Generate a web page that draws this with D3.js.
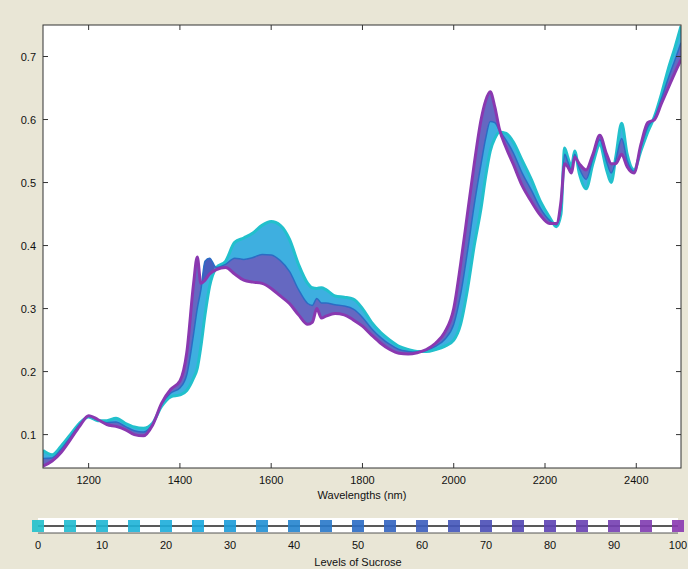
<!DOCTYPE html>
<html>
<head>
<meta charset="utf-8">
<script src="https://cdn.jsdelivr.net/npm/d3@7"></script>
<style>
  body { margin: 0; background: #e9e6d6; }
  text { font-family: "Liberation Sans", Arial, sans-serif; fill: #111; }
</style>
</head>
<body>
<svg id="chart" width="688" height="569"></svg>
<script>
// Wavelength grid (nm) shared by all spectra
const wavelengths = [1100,1120,1140,1160,1180,1200,1220,1240,1260,1280,1300,1320,1340,1360,1380,1400,1415,1430,1438,1446,1455,1465,1480,1500,1520,1540,1560,1580,1600,1620,1640,1660,1680,1690,1700,1710,1720,1740,1760,1780,1800,1820,1840,1860,1880,1900,1920,1940,1960,1980,2000,2015,2030,2045,2060,2070,2080,2090,2100,2115,2130,2150,2170,2190,2210,2225,2235,2243,2250,2258,2265,2275,2290,2305,2320,2335,2345,2355,2368,2380,2395,2410,2425,2440,2455,2470,2485,2498];

// Absorbance at 0% sucrose (cyan edge of the band)
const absLow = [0.075,0.068,0.082,0.100,0.118,0.128,0.122,0.122,0.126,0.118,0.112,0.110,0.118,0.145,0.160,0.163,0.170,0.190,0.205,0.240,0.290,0.335,0.365,0.375,0.405,0.412,0.420,0.432,0.438,0.432,0.410,0.370,0.340,0.333,0.332,0.333,0.330,0.320,0.318,0.315,0.300,0.278,0.262,0.250,0.240,0.235,0.232,0.232,0.235,0.240,0.250,0.275,0.330,0.400,0.460,0.510,0.550,0.570,0.580,0.578,0.565,0.535,0.505,0.470,0.445,0.430,0.450,0.555,0.540,0.525,0.550,0.515,0.490,0.530,0.560,0.520,0.500,0.540,0.594,0.545,0.520,0.550,0.580,0.605,0.640,0.680,0.715,0.748];

// Absorbance at 50% sucrose (blue middle of the band)
const absMid = [0.062,0.063,0.077,0.096,0.116,0.129,0.123,0.119,0.120,0.113,0.106,0.104,0.116,0.148,0.166,0.174,0.195,0.260,0.300,0.330,0.375,0.380,0.365,0.370,0.380,0.378,0.381,0.386,0.385,0.376,0.359,0.330,0.308,0.305,0.316,0.309,0.309,0.306,0.304,0.299,0.286,0.268,0.254,0.243,0.235,0.232,0.231,0.234,0.240,0.251,0.275,0.322,0.390,0.465,0.530,0.570,0.597,0.595,0.583,0.567,0.548,0.515,0.488,0.459,0.440,0.433,0.460,0.545,0.533,0.520,0.545,0.523,0.505,0.538,0.568,0.533,0.515,0.535,0.570,0.535,0.518,0.555,0.588,0.603,0.633,0.665,0.695,0.722];

// Absorbance at 100% sucrose (purple edge of the band)
const absHigh = [0.050,0.058,0.072,0.092,0.113,0.130,0.124,0.116,0.113,0.108,0.100,0.098,0.115,0.150,0.172,0.185,0.230,0.340,0.382,0.340,0.345,0.355,0.362,0.365,0.355,0.345,0.342,0.340,0.332,0.320,0.308,0.290,0.275,0.278,0.300,0.285,0.288,0.292,0.290,0.282,0.272,0.258,0.245,0.235,0.229,0.228,0.230,0.235,0.245,0.262,0.300,0.370,0.450,0.530,0.600,0.630,0.644,0.620,0.585,0.555,0.530,0.495,0.470,0.448,0.435,0.435,0.470,0.530,0.525,0.515,0.540,0.530,0.520,0.545,0.575,0.545,0.530,0.530,0.545,0.525,0.515,0.560,0.595,0.600,0.625,0.650,0.675,0.695];

// Sucrose levels shown in the colour strip
const levels = [0,5,10,15,20,25,30,35,40,45,50,55,60,65,70,75,80,85,90,95,100];
const levelTicks = [0,10,20,30,40,50,60,70,80,90,100];
const xTicks = [1200,1400,1600,1800,2000,2200,2400];
const yTicks = [0.1,0.2,0.3,0.4,0.5,0.6,0.7];

const svg = d3.select("#chart");

// plot box
const box = {left: 43, right: 681, top: 25, bottom: 468};

const x = d3.scaleLinear().domain([1100, 2498]).range([box.left, box.right]);
const y = d3.scaleLinear().domain([0.047, 0.75]).range([box.bottom, box.top]);

const color = d3.scaleLinear()
  .domain([0, 25, 50, 75, 100])
  .range(["#22c0cc", "#1aa8de", "#2b6cc4", "#5246b2", "#8a38b0"]);

// white plot area
svg.append("rect")
  .attr("x", box.left).attr("y", box.top)
  .attr("width", box.right - box.left).attr("height", box.bottom - box.top)
  .attr("fill", "#fff");

svg.append("clipPath").attr("id", "clip")
  .append("rect")
  .attr("x", box.left).attr("y", box.top)
  .attr("width", box.right - box.left).attr("height", box.bottom - box.top);

const plot = svg.append("g").attr("clip-path", "url(#clip)");

// spectra table
const rows = wavelengths.map((w, i) => ({w: w, lo: absLow[i], mid: absMid[i], hi: absHigh[i]}));

const band = (a, b) => d3.area()
  .x(d => x(d.w))
  .y0(d => y(d[a]))
  .y1(d => y(d[b]))
  .curve(d3.curveMonotoneX);

const line = key => d3.line()
  .x(d => x(d.w))
  .y(d => y(d[key]))
  .curve(d3.curveMonotoneX);

// shaded band between 0% and 50%, and between 50% and 100%
plot.append("path").datum(rows)
  .attr("d", band("lo", "mid"))
  .attr("fill", color(28)).attr("fill-opacity", 0.85);
plot.append("path").datum(rows)
  .attr("d", band("mid", "hi"))
  .attr("fill", color(70)).attr("fill-opacity", 0.85);

// edge and middle curves
[["lo", 0, 3], ["mid", 50, 1.5], ["hi", 100, 3]].forEach(([key, lev, sw]) => {
  plot.append("path").datum(rows)
    .attr("d", line(key))
    .attr("fill", "none")
    .attr("stroke", color(lev))
    .attr("stroke-width", sw)
    .attr("stroke-linejoin", "round");
});

// frame
svg.append("rect")
  .attr("x", box.left).attr("y", box.top)
  .attr("width", box.right - box.left).attr("height", box.bottom - box.top)
  .attr("fill", "none").attr("stroke", "#333").attr("stroke-width", 1);

// ticks on all four sides, pointing inwards
xTicks.forEach(t => {
  svg.append("line").attr("x1", x(t)).attr("x2", x(t))
    .attr("y1", box.bottom).attr("y2", box.bottom - 5).attr("stroke", "#333");
  svg.append("line").attr("x1", x(t)).attr("x2", x(t))
    .attr("y1", box.top).attr("y2", box.top + 5).attr("stroke", "#333");
  svg.append("text")
    .attr("x", x(t)).attr("y", 484)
    .attr("text-anchor", "middle")
    .style("font-size", "11px")
    .text(t);
});

yTicks.forEach(t => {
  svg.append("line").attr("x1", box.left).attr("x2", box.left + 5)
    .attr("y1", y(t)).attr("y2", y(t)).attr("stroke", "#333");
  svg.append("line").attr("x1", box.right).attr("x2", box.right - 5)
    .attr("y1", y(t)).attr("y2", y(t)).attr("stroke", "#333");
  svg.append("text")
    .attr("x", 36).attr("y", y(t) + 4)
    .attr("text-anchor", "end")
    .style("font-size", "11px")
    .text(t);
});

svg.append("text")
  .attr("x", 362).attr("y", 499)
  .attr("text-anchor", "middle")
  .style("font-size", "11px")
  .text("Wavelengths (nm)");

// colour strip for sucrose levels
const lx = d3.scaleLinear().domain([0, 100]).range([38, 678]);
const stripY = 526;

svg.append("rect")
  .attr("x", lx(0)).attr("y", 518)
  .attr("width", lx(100) - lx(0)).attr("height", 15)
  .attr("fill", "#fff");

svg.append("line")
  .attr("x1", lx(0)).attr("x2", lx(100))
  .attr("y1", stripY).attr("y2", stripY)
  .attr("stroke", "#222").attr("stroke-width", 1.5);

svg.append("line")
  .attr("x1", lx(0)).attr("x2", lx(100))
  .attr("y1", 533).attr("y2", 533)
  .attr("stroke", "#555").attr("stroke-width", 1);

svg.selectAll(".lev")
  .data(levels)
  .enter()
  .append("rect")
  .attr("class", "lev")
  .attr("x", d => lx(d) - 6)
  .attr("y", stripY - 6)
  .attr("width", 12).attr("height", 12)
  .attr("fill", d => color(d))
  .attr("fill-opacity", 0.9);

levelTicks.forEach(t => {
  svg.append("text")
    .attr("x", lx(t)).attr("y", 549)
    .attr("text-anchor", "middle")
    .style("font-size", "11px")
    .text(t);
});

svg.append("text")
  .attr("x", 358).attr("y", 566)
  .attr("text-anchor", "middle")
  .style("font-size", "11px")
  .text("Levels of Sucrose");
</script>
</body>
</html>
